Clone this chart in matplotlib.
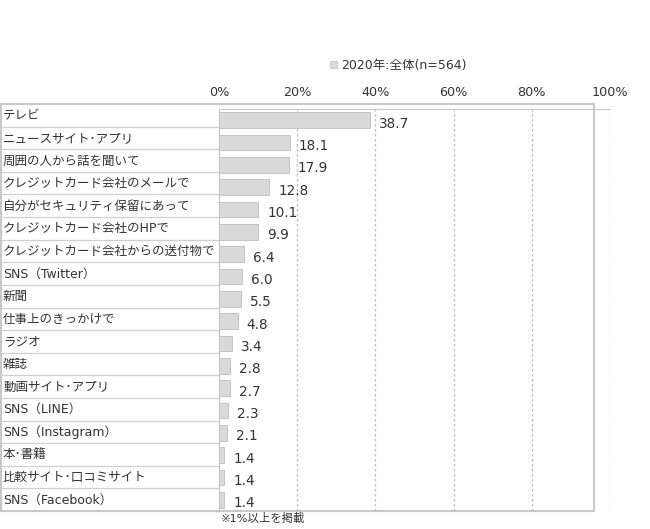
import matplotlib
matplotlib.use("Agg")
import matplotlib.pyplot as plt
from matplotlib.patches import Rectangle

# 欧文はVerdana風のDejaVu、和文はNoto CJK
plt.rcParams['font.family'] = ['DejaVu Sans', 'Noto Sans CJK JP']

# データ
categories = [
    'テレビ', 'ニュースサイト･アプリ', '周囲の人から話を聞いて', 'クレジットカード会社のメールで',
    '自分がセキュリティ保留にあって', 'クレジットカード会社のHPで', 'クレジットカード会社からの送付物で',
    'SNS（Twitter）', '新聞', '仕事上のきっかけで', 'ラジオ', '雑誌', '動画サイト･アプリ',
    'SNS（LINE）', 'SNS（Instagram）', '本･書籍', '比較サイト･口コミサイト', 'SNS（Facebook）',
]
values = [38.7, 18.1, 17.9, 12.8, 10.1, 9.9, 6.4, 6.0, 5.5, 4.8, 3.4, 2.8, 2.7, 2.3, 2.1, 1.4, 1.4, 1.4]
xticks = [0, 20, 40, 60, 80, 100]
series_name = '2020年:全体(n=564)'
footnote = '※1%以上を掲載'

W, H = 650, 529
TXT = '#333333'
BAR = '#d9d9d9'
EDGE = '#c4c4c4'
GRID = '#bdbdbd'

fig = plt.figure(figsize=(W / 100, H / 100), dpi=100)

# 背景(表部分)をピクセル座標で
bg = fig.add_axes([0, 0, 1, 1])
bg.set_xlim(0, W)
bg.set_ylim(H, 0)
bg.axis('off')

tbl_top, tbl_bot = 104, 511
n = len(categories)
row_h = (tbl_bot - tbl_top) / n
bg.add_patch(Rectangle((1, tbl_top), 593, tbl_bot - tbl_top, fill=False,
                       edgecolor='#c8c8c8', lw=1.5))
for i, lab in enumerate(categories):
    y = tbl_top + row_h * (i + 0.5)
    bg.text(3, y + 0.5, lab, fontsize=9, color=TXT, va='center', ha='left')
    if i > 0:
        bg.plot([1, 219], [tbl_top + row_h * i] * 2, color='#cfcfcf', lw=0.9)

# 凡例
bg.add_patch(Rectangle((330, 61), 7, 7, facecolor=BAR, edgecolor=EDGE, lw=0.6))
bg.text(341, 65, series_name, fontsize=9, color=TXT, va='center', ha='left')
bg.text(221, 518, footnote, fontsize=8.2, color=TXT, va='center', ha='left')

# 棒グラフ
ax = fig.add_axes([219 / W, (H - 511) / H, (610 - 219) / W, (511 - 109) / H])
ax.set_facecolor('none')
ypos = list(range(n))
ax.barh(ypos, values, height=0.7, color=BAR, edgecolor=EDGE, lw=0.7, zorder=3)
for y, v in zip(ypos, values):
    ax.annotate(f'{v:.1f}', (v, y), xytext=(6.5, -2.5), textcoords='offset points',
                fontsize=9.8, color=TXT, va='center', ha='left', zorder=4)

ax.set_xlim(0, 100)
ax.set_ylim(n - 0.5, -0.5)
ax.set_xticks(xticks)
ax.set_xticklabels([f'{t}%' for t in xticks])
ax.set_yticks([])
ax.xaxis.tick_top()
ax.tick_params(axis='x', length=0, pad=7, labelsize=9.2, labelcolor=TXT)
for t in xticks[1:]:
    ax.axvline(t, color=GRID, lw=0.9, ls=(0, (2, 2)), zorder=1)
for s in ['right', 'bottom']:
    ax.spines[s].set_visible(False)
ax.spines['top'].set_color('#c8c8c8')
ax.spines['left'].set_color('#bfbfbf')

fig.savefig('out.png', dpi=100)
